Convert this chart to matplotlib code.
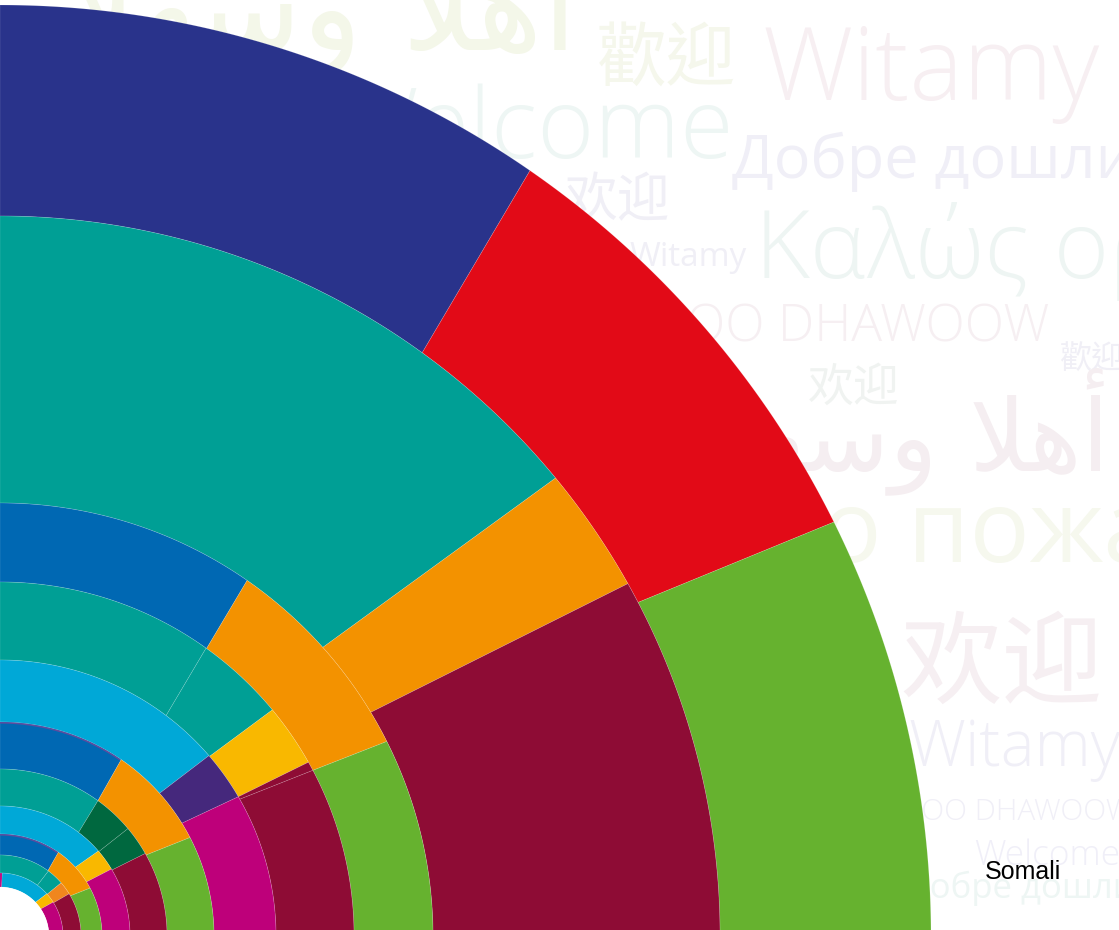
import numpy as np
import matplotlib
matplotlib.use("Agg")
import matplotlib.pyplot as plt
from matplotlib.patches import Polygon

# ---------------- data ----------------
# ring boundaries (outer -> inner), pixel radius units
ring_radii = [931, 720, 433, 354, 276, 214, 167, 130, 102, 81, 63, 49]

ring_colors = [
    ["#29338B", "#E20A17", "#66B22F"],
    ["#009F95", "#F39200", "#8E0C35"],
    ["#0068B3", "#F39200", "#66B22F"],
    ["#009F95", "#009F95", "#F9B800", "#8E0C35", "#8E0C35"],
    ["#00A8D7", "#45287C", "#BE007A"],
    ["#0068B3", "#F39200", "#66B22F"],
    ["#009F95", "#00683F", "#00683F", "#8E0C35"],
    ["#00A8D7", "#F9B800", "#BE007A"],
    ["#0068B3", "#F39200", "#66B22F"],
    ["#009F95", "#009F95", "#F0861E", "#8E0C35"],
    ["#BE007A", "#00A8D7", "#F9B800", "#BE007A"],
]
# cut angles (degrees, 90 = top edge, 0 = bottom edge), at outer and inner edge
cuts_outer = [
    [55.3, 26.4],
    [39.5, 29.3],
    [55.2, 26.7],
    [54.4, 39.7, 29.4, 27.9],
    [40.8, 30.3],
    [55.5, 27.4],
    [54.1, 40.0, 29.6],
    [40.8, 31.0],
    [55.1, 28.0],
    [53.3, 41.0, 31.4],
    [88.0, 42.0, 32.5],
]
cuts_inner = [
    [54.1, 27.6],
    [41.8, 31.1],
    [54.3, 27.9],
    [53.0, 40.6, 30.3, 29.7],
    [41.8, 31.8],
    [54.1, 29.0],
    [52.8, 40.5, 30.5],
    [42.4, 32.0],
    [53.7, 29.7],
    [53.6, 41.5, 31.8],
    [88.0, 43.5, 33.5],
]

bg_words = ["أهلا وسهلا", "歡迎", "Witamy", "Welcome", "Добре дошли", "欢迎",
            "Witamy", "Καλώς ορίσατε", "SOO DHAWOOW", "歡迎", "欢迎",
            "أهلاً وسهلاً", "Добро пожаловать", "欢迎", "Witamy",
            "SOO DHAWOOW", "Welcome", "Добре дошли"]
label_text = "Somali"

# ---------------- helpers ----------------
def shape_arabic(s):
    # simple presentation-form shaping for the two greetings used here
    table = {
        "أهلا": "\uFE83\uFEEB\uFEFC",
        "وسهلا": "\uFEED\uFEB3\uFEEC\uFEFC",
    }
    s = s.replace("\u064B", "")
    words = s.split(" ")
    shaped = [table.get(w, w) for w in words]
    return " ".join(w[::-1] for w in shaped[::-1])

def arc(r, a0, a1, n=200):
    t = np.radians(np.linspace(a0, a1, n))
    return np.column_stack([r * np.cos(t), r * np.sin(t)])

# ---------------- figure ----------------
fig = plt.figure(figsize=(11.19, 9.30), dpi=100)
ax = fig.add_axes([0, 0, 1, 1])
ax.set_xlim(0, 1119)
ax.set_ylim(6, 936)
ax.set_aspect("equal")
ax.axis("off")
fig.patch.set_facecolor("white")

def Y(img_y):
    return 936 - img_y

# background words (position, size, colour, family, weight)
bg_style = [
    (65, 50, 90, "#F4F7E9", "DejaVu Sans", "normal"),
    (597, 80, 50, "#F5F7EC", "Noto Sans CJK TC", "light"),
    (762, 100, 73, "#F7EFF2", "Open Sans", "light"),
    (332, 158, 70, "#EEF6F4", "Open Sans", "light"),
    (732, 178, 44, "#F0EFF7", "Open Sans", "normal"),
    (565, 216, 38, "#F0EFF6", "Noto Sans CJK SC", "light"),
    (630, 266, 24, "#F0EFF6", "Open Sans", "normal"),
    (755, 278, 68, "#EEF5F3", "Open Sans", "light"),
    (658, 341, 37, "#F6EFF2", "Open Sans", "light"),
    (1060, 368, 23, "#F0EFF6", "Noto Sans CJK TC", "light"),
    (808, 401, 33, "#F0F3F1", "Noto Sans CJK SC", "light"),
    (700, 470, 72, "#F5EEF1", "DejaVu Sans", "normal"),
    (572, 562, 72, "#F6F8EE", "Open Sans", "normal"),
    (900, 696, 73, "#F6EFF2", "Noto Sans CJK SC", "light"),
    (908, 766, 46, "#F0EFF7", "Open Sans", "light"),
    (905, 820, 21.5, "#F0EFF7", "Open Sans", "light"),
    (974, 865, 25.5, "#F0EFF8", "Open Sans", "light"),
    (906, 898, 25, "#EEF6F4", "Open Sans", "normal"),
]
for word, (x, y, size, col, fam, wt) in zip(bg_words, bg_style):
    txt = shape_arabic(word) if any("\u0600" <= ch <= "\u06FF" for ch in word) else word
    ax.text(x, Y(y), txt, fontsize=size, color=col, family=[fam, "DejaVu Sans"],
            fontweight=wt, ha="left", va="baseline", zorder=1)

# rings
for i, colors in enumerate(ring_colors):
    r_out, r_in = ring_radii[i], ring_radii[i + 1]
    bo = [90.0] + cuts_outer[i] + [0.0]
    bi = [90.0] + cuts_inner[i] + [0.0]
    for k, col in enumerate(colors):
        pts = np.vstack([arc(r_out, bo[k], bo[k + 1]),
                         arc(r_in, bi[k + 1], bi[k])])
        ax.add_patch(Polygon(pts, closed=True, facecolor=col,
                             edgecolor=(1, 1, 1, 0.18), linewidth=0.5,
                             joinstyle="miter", zorder=3))

# thin purple rims on the blue segments of the repeating rings
for i in (5, 8):
    r = ring_radii[i]
    a = arc(r - 0.8, 90, cuts_outer[i][0] + 0.3)
    ax.plot(a[:, 0], a[:, 1], color="#5E4C9E", lw=1.1, zorder=4,
            solid_capstyle="butt")

# centre hole
ax.add_patch(plt.Circle((0, 0), ring_radii[-1], facecolor="white",
                        edgecolor="none", zorder=5))

ax.text(985, Y(879), label_text, fontsize=18, color="black",
        family=["Liberation Sans", "DejaVu Sans"], ha="left", va="baseline",
        zorder=6)

fig.savefig("out.png", dpi=100, facecolor="white")
